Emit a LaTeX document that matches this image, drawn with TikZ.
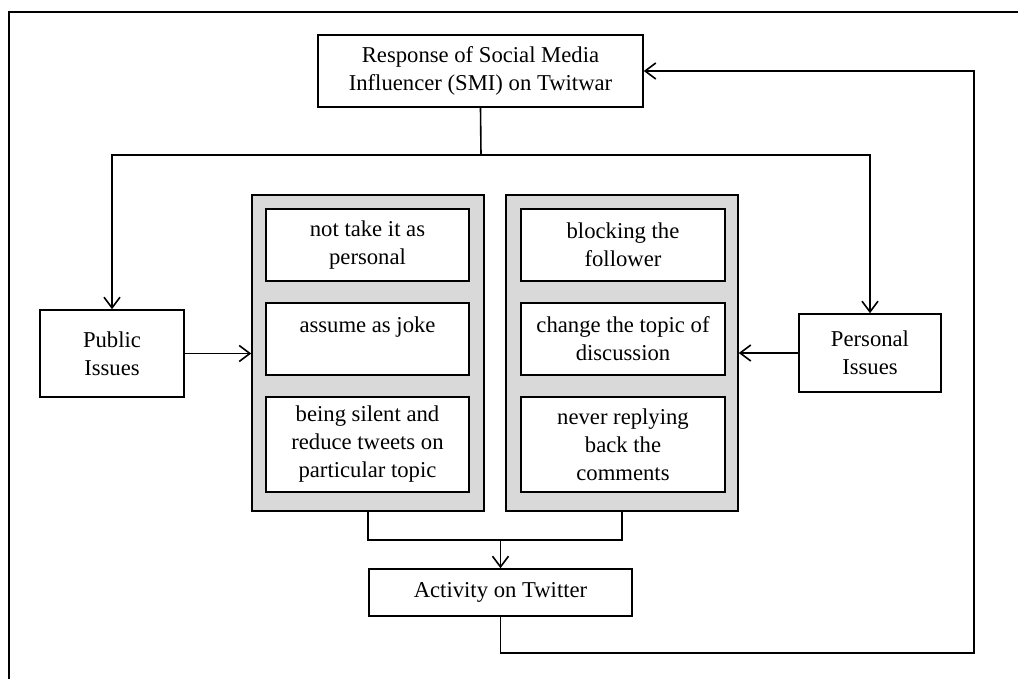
\documentclass[tikz,border=0pt]{standalone}
\usepackage{fontspec}
\setmainfont{Liberation Serif}
\usetikzlibrary{arrows.meta}
\definecolor{panelgrey}{RGB}{217,217,217}

\tikzset{every picture/.style={line width=1.2pt}}
\tikzset{
  box/.style={draw, fill=white, align=center, inner sep=2pt, font=\fontsize{17}{21}\selectfont},
  panel/.style={draw, fill=panelgrey, minimum width=174pt, minimum height=237pt},
  arr/.style={-{Straight Barb[length=8pt,width=12pt,line width=1.2pt]}}
}

\begin{document}
\begin{tikzpicture}[x=0.75pt,y=0.75pt,yscale=-1,xscale=1]
\useasboundingbox (0,0) rectangle (1018,679);

%Frame
\draw [line width=2pt] (1018,12) -- (9,12) -- (9,679) ;

% Top and bottom boxes
\node [box, minimum width=243.75pt, minimum height=54pt] (smi) at (480.5,71) {Response of Social Media\\Influencer (SMI) on Twitwar};
\node [box, minimum width=197.25pt, minimum height=35.25pt] (act) at (500.5,592.5) {Activity on Twitter};

% Issue boxes
\node [box, minimum width=108pt, minimum height=65.25pt] (pub) at (112,353.5) {Public\\Issues};
\node [box, minimum width=106.5pt, minimum height=58.5pt] (pers) at (870,353) {Personal\\Issues};

% Grey panels
\node [panel] (lpanel) at (368,353) {};
\node [panel] (rpanel) at (622,353) {};

% Left responses
\node [box, minimum width=152.25pt, minimum height=54pt] (joke1) at (367.5,245) {not take it as\\personal};
\node [box, minimum width=152.25pt, minimum height=54pt] (joke2) at (367.5,339) {assume as joke\\~};
\node [box, minimum width=152.25pt, minimum height=71.25pt] (joke3) at (367.5,444.5) {being silent and\\reduce tweets on\\particular topic};

% Right responses
\node [box, minimum width=153pt, minimum height=54pt] (block1) at (623,245) {blocking the\\follower};
\node [box, minimum width=153pt, minimum height=54pt] (block2) at (623,339) {change the topic of\\discussion};
\node [box, minimum width=153pt, minimum height=71.25pt] (block3) at (623,444.5) {never replying\\back the\\comments};

% Connectors
\coordinate (split) at (481,155);
\coordinate (join) at (500.5,540);
\coordinate (back) at (974,653);

\draw [arr] (smi.south) -- (split) -| (pub.north) ;
\draw [arr] (split) -| (pers.north) ;
\draw [arr] (pub.east) -- (pub.east -| lpanel.west) ;
\draw [arr] (pers.west) -- (pers.west -| rpanel.east) ;
\draw (lpanel.south) |- (join) -| (rpanel.south) ;
\draw [arr] (join) -- (act.north) ;
\draw [arr] (act.south) |- (back) |- (smi.east) ;

\end{tikzpicture}
\end{document}
